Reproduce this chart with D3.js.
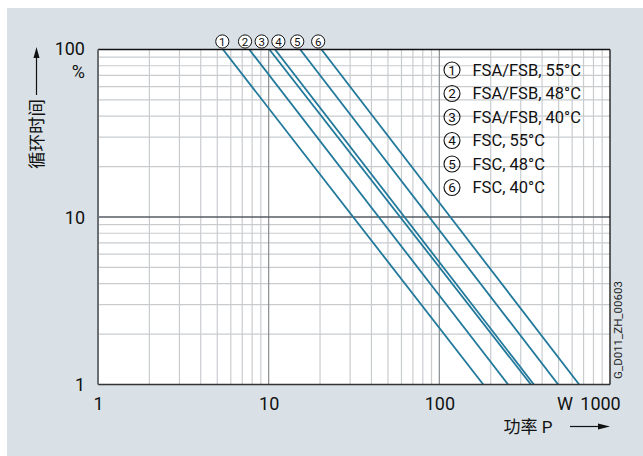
<!DOCTYPE html>
<html><head><meta charset="utf-8">
<script src="https://cdn.jsdelivr.net/npm/d3@7"></script>
<style>body{margin:0;background:#fff}svg{display:block}text{font-family:Roboto,"Noto Sans CJK SC",sans-serif}</style>
</head><body>
<svg id="c" width="643" height="456"></svg>
<script>
// Data
const seriesIds = [1, 2, 3, 4, 5, 6];
const seriesNames = ["FSA/FSB, 55°C", "FSA/FSB, 48°C", "FSA/FSB, 40°C", "FSC, 55°C", "FSC, 48°C", "FSC, 40°C"];
const cycleLevels = [100, 1];                 // cycle time % at the two ends of each line
const powerAt100 = [5.4, 7.7, 10.1, 10.9, 15.3, 20.4];   // W at 100 %
const powerAt1 = [181, 253, 344, 358, 497, 660];         // W at 1 %
const topLabelPower = [5.35, 7.27, 9.1, 11.4, 14.7, 19.5];
const xTicks = [1, 10, 100, 1000];
const xTickLabels = ["1", "10", "100", "1000"];
const yTicks = [1, 10, 100];
const yTickLabels = ["1", "10", "100"];

const svg = d3.select("#c");
svg.append("rect").attr("x", 7).attr("y", 8).attr("width", 636).attr("height", 448).attr("fill", "#d9e1e7");

const L = 98, R = 610, T = 49.5, B = 384.5;
const x = d3.scaleLog().domain([1, 1000]).range([L, R]);
const y = d3.scaleLog().domain([1, 100]).range([B, T]);

svg.append("rect").attr("x", L).attr("y", T).attr("width", R - L).attr("height", B - T).attr("fill", "#fff");

// minor grid
const xMinor = [], yMinor = [];
for (let d = 1; d < 1000; d *= 10) for (let k = 2; k <= 9; k++) xMinor.push(d * k);
for (let d = 1; d < 100; d *= 10) for (let k = 2; k <= 9; k++) yMinor.push(d * k);
const g = svg.append("g");
g.selectAll(".vx").data(xMinor).join("line").attr("x1", d => x(d)).attr("x2", d => x(d)).attr("y1", T).attr("y2", B).attr("stroke", "#c9cccf").attr("stroke-width", 1.2);
g.selectAll(".hy").data(yMinor).join("line").attr("x1", L).attr("x2", R).attr("y1", d => y(d)).attr("y2", d => y(d)).attr("stroke", "#c9cccf").attr("stroke-width", 1.2);
g.selectAll(".vm").data([10, 100]).join("line").attr("x1", d => x(d)).attr("x2", d => x(d)).attr("y1", T).attr("y2", B).attr("stroke", "#8a8d90").attr("stroke-width", 1.2);
g.selectAll(".hm").data([10]).join("line").attr("x1", L).attr("x2", R).attr("y1", d => y(d)).attr("y2", d => y(d)).attr("stroke", "#555c63").attr("stroke-width", 1.3);

// series lines
svg.append("clipPath").attr("id", "clp").append("rect").attr("x", L).attr("y", T).attr("width", R - L).attr("height", B - T);
const lineGen = d3.line().x(d => x(d[0])).y(d => y(d[1]));
svg.append("g").attr("clip-path", "url(#clp)").selectAll("path").data(seriesIds.map((id, i) => [[powerAt100[i], cycleLevels[0]], [powerAt1[i], cycleLevels[1]]]))
  .join("path").attr("d", lineGen).attr("fill", "none").attr("stroke", "#22799b").attr("stroke-width", 1.8);

// border
svg.append("line").attr("x1", L).attr("x2", R).attr("y1", T).attr("y2", T).attr("stroke", "#111").attr("stroke-width", 1.6);
svg.append("line").attr("x1", L).attr("x2", R).attr("y1", B).attr("y2", B).attr("stroke", "#333").attr("stroke-width", 1.6);
svg.append("line").attr("x1", L).attr("x2", L).attr("y1", T).attr("y2", B).attr("stroke", "#6a6f74").attr("stroke-width", 2);
svg.append("line").attr("x1", R).attr("x2", R).attr("y1", T).attr("y2", B).attr("stroke", "#111").attr("stroke-width", 1.3);

// axes tick labels
const xa = svg.append("g").attr("transform", `translate(0,${B})`).call(d3.axisBottom(x).tickValues(xTicks).tickSize(0).tickFormat((d, i) => xTickLabels[i]));
xa.select(".domain").remove();
xa.selectAll("text").attr("font-size", 18).attr("fill", "#111").attr("dy", 0).attr("y", 25)
  .attr("dx", (d, i) => i === xTicks.length - 1 ? -10 : 0);
svg.append("text").attr("x", 565).attr("y", B + 25).attr("text-anchor", "middle").attr("font-size", 18).attr("fill", "#111").text("W");

const ya = svg.append("g").attr("transform", `translate(${L},0)`).call(d3.axisLeft(y).tickValues(yTicks).tickSize(0).tickFormat((d, i) => yTickLabels[i]));
ya.select(".domain").remove();
ya.selectAll("text").attr("font-size", 18).attr("fill", "#111").attr("x", -13).attr("dy", (d, i) => i === yTicks.length - 1 ? "0.3em" : "0.35em");
svg.append("text").attr("x", L - 13).attr("y", y(100) + 28).attr("text-anchor", "end").attr("font-size", 18).attr("fill", "#111").text("%");

// axis titles
svg.append("text").attr("x", 528).attr("y", 432.5).attr("text-anchor", "middle").attr("font-size", 17).attr("fill", "#111").text("功率 P");
svg.append("line").attr("x1", 570).attr("x2", 600).attr("y1", 426.5).attr("y2", 426.5).attr("stroke", "#111").attr("stroke-width", 1.2);
svg.append("path").attr("d", "M598,423.5 L610,426.5 L598,429.5 Z").attr("fill", "#111");

svg.append("text").attr("transform", "translate(42.5,134) rotate(-90)").attr("text-anchor", "middle").attr("font-size", 17.5).attr("fill", "#111").text("循环时间");
svg.append("line").attr("x1", 36.5).attr("x2", 36.5).attr("y1", 95).attr("y2", 56).attr("stroke", "#111").attr("stroke-width", 1.2);
svg.append("path").attr("d", "M33.5,58 L36.5,47 L39.5,58 Z").attr("fill", "#111");

// top circled labels
const tl = svg.append("g").selectAll("g").data(seriesIds).join("g").attr("transform", (d, i) => `translate(${x(topLabelPower[i])},41.5)`);
tl.append("circle").attr("r", 6.6).attr("fill", "#fff").attr("stroke", "#111").attr("stroke-width", 1);
tl.append("text").attr("text-anchor", "middle").attr("dy", "0.36em").attr("font-size", 11.5).attr("fill", "#111").text(d => d);

// legend
const lg = svg.append("g").selectAll("g").data(seriesIds).join("g").attr("transform", (d, i) => `translate(452,${70 + i * 23.5})`);
lg.append("circle").attr("r", 8).attr("fill", "none").attr("stroke", "#111").attr("stroke-width", 1.1);
lg.append("text").attr("text-anchor", "middle").attr("dy", "0.36em").attr("font-size", 13.5).attr("fill", "#111").text(d => d);
lg.append("text").attr("x", 20.5).attr("dy", "0.36em").attr("font-size", 16.5).attr("fill", "#111").text((d, i) => seriesNames[i]);

// watermark
svg.append("text").attr("transform", "translate(622,330) rotate(-90)").attr("text-anchor", "middle").attr("font-size", 11.5).attr("fill", "#222").text("G_D011_ZH_00603");
</script>
</body></html>
